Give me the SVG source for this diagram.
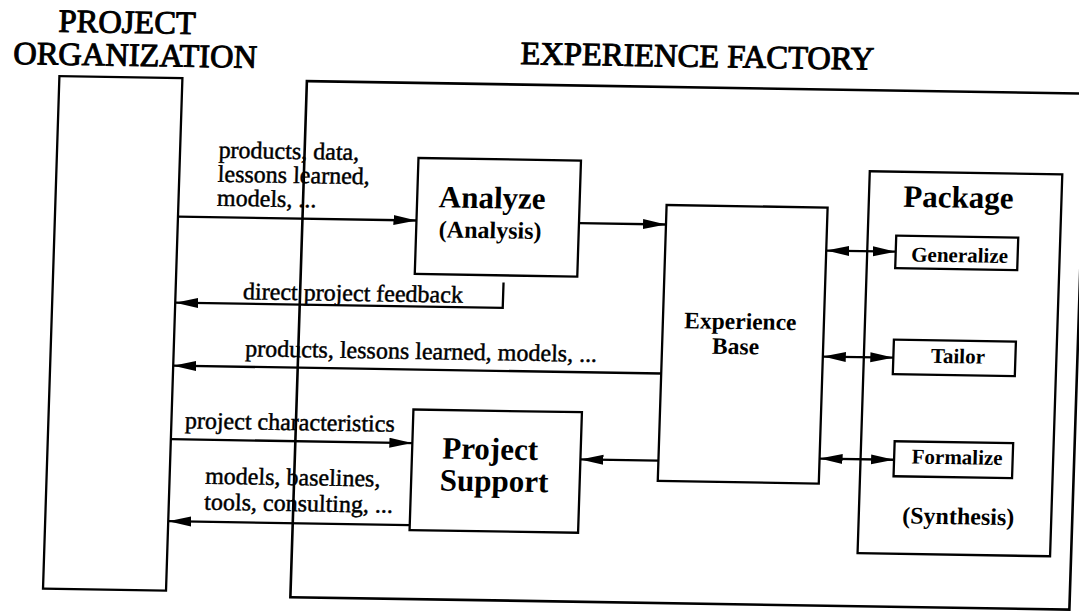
<svg xmlns="http://www.w3.org/2000/svg" width="1079" height="613" viewBox="0 0 1079 613">
<defs>
<marker id="ah" markerUnits="userSpaceOnUse" markerWidth="23" markerHeight="11" viewBox="0 0 23 11" refX="23" refY="5.5" orient="auto-start-reverse"><path d="M0,0.5 L23,5.5 L0,10.5 z" fill="#000"/></marker>
</defs>
<style>
.box{fill:none;stroke:#000;stroke-width:2.3}
.ln{fill:none;stroke:#000;stroke-width:2.3;marker-end:url(#ah)}
.dbl{marker-start:url(#ah)}
text{font-family:"Liberation Serif","Times New Roman",serif;fill:#000}
.hd{font-size:32.5px;stroke:#000;stroke-width:1;text-anchor:middle}
.tt{font-size:31px;font-weight:bold;text-anchor:middle}
.sub{font-size:24px;font-weight:bold;text-anchor:middle}
.eb{font-size:23.5px;font-weight:bold;text-anchor:middle}
.sm{font-size:21px;font-weight:bold;text-anchor:middle}
.lb{font-size:24px;stroke:#000;stroke-width:0.45}
</style>
<rect width="1079" height="613" fill="#fff"/>
<g transform="matrix(1 0.016 -0.032 1 9.6 -8.64)">
<g id="project-organization">
<text class="hd" x="118.5" y="39.6">PROJECT</text>
<text class="hd" x="127.5" y="72.5">ORGANIZATION</text>
<rect class="box" x="52.5" y="84" width="123" height="512.5"/>
</g>
<g id="experience-factory">
<text class="hd" x="689.5" y="64.5">EXPERIENCE FACTORY</text>
<rect class="box" x="300" y="85" width="779" height="516" style="stroke-width:2.6"/>
</g>
<g id="analyze">
<rect class="box" x="414" y="160" width="162.5" height="116"/>
<text class="tt" x="489" y="209">Analyze</text>
<text class="sub" x="488" y="239">(Analysis)</text>
</g>
<g id="experience-base">
<rect class="box" x="663.5" y="203" width="161" height="276"/>
<text class="eb" x="741" y="326">Experience</text>
<text class="eb" x="737" y="351">Base</text>
</g>
<g id="project-support">
<rect class="box" x="417" y="411.5" width="168.5" height="120.5"/>
<text class="tt" x="495" y="460">Project</text>
<text class="tt" x="500" y="492">Support</text>
</g>
<g id="package">
<rect class="box" x="865.5" y="166" width="192.5" height="382"/>
<text class="tt" x="955" y="201">Package</text>
<text class="sub" x="965" y="517.5">(Synthesis)</text>
</g>
<g id="generalize">
<rect class="box" x="894" y="230" width="122" height="32.5"/>
<text class="sm" x="958" y="255.5">Generalize</text>
</g>
<g id="tailor">
<rect class="box" x="895" y="334" width="122" height="34.5"/>
<text class="sm" x="959.5" y="356.5">Tailor</text>
</g>
<g id="formalize">
<rect class="box" x="899" y="435.5" width="118.5" height="35"/>
<text class="sm" x="962" y="457.5">Formalize</text>
</g>
<g id="connectors">
<path class="ln" d="M175.5,222.5 H414"/>
<path class="ln" d="M576.5,222.5 H663.5"/>
<path class="ln" d="M503,283 V308.5 H175.5"/>
<path class="ln" d="M663.5,371.5 H175.5"/>
<path class="ln" d="M175.5,445 H417"/>
<path class="ln" d="M663.5,458.7 H585.5"/>
<path class="ln" d="M417,527 H175.5"/>
<path class="ln dbl" d="M824.5,246 H894"/>
<path class="ln dbl" d="M824.5,352 H895"/>
<path class="ln dbl" d="M824.5,454 H899"/>
</g>
<g id="labels">
<text class="lb" x="214" y="163">products, data,</text>
<text class="lb" x="214" y="187">lessons learned,</text>
<text class="lb" x="214" y="211">models, ...</text>
<text class="lb" x="243" y="304">direct project feedback</text>
<text class="lb" x="247" y="361">products, lessons learned, models, ...</text>
<text class="lb" x="189" y="434">project characteristics</text>
<text class="lb" x="211" y="489">models, baselines,</text>
<text class="lb" x="211" y="515">tools, consulting, ...</text>
</g>
</g>
</svg>
